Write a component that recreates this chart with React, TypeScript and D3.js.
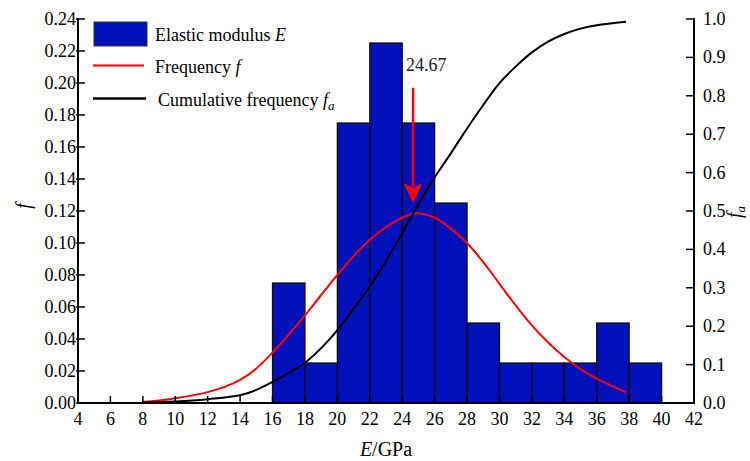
import React from "react";
import * as d3 from "d3";

// Histogram of elastic modulus (bin width 2 GPa)
const binStarts = [16, 18, 20, 22, 24, 26, 28, 30, 32, 34, 36, 38];
const binFreq = [0.075, 0.025, 0.175, 0.225, 0.175, 0.125, 0.05, 0.025, 0.025, 0.025, 0.05, 0.025];
const binWidth = 2;

// Frequency curve f
const freqE = [8, 9, 10, 11, 12, 13, 14, 15, 16, 17, 18, 19, 20, 21, 22, 23, 24, 24.7, 25.4, 26, 27, 28, 29, 30, 31, 32, 33, 34, 35, 36, 37, 37.8];
const freqF = [0.0007, 0.0016, 0.003, 0.0046, 0.0068, 0.0099, 0.0144, 0.0215, 0.0315, 0.0428, 0.0548, 0.0675, 0.0800, 0.0918, 0.1020, 0.1100, 0.1158, 0.1185, 0.1178, 0.1158, 0.109, 0.100, 0.088, 0.0745, 0.061, 0.0485, 0.0378, 0.0288, 0.0212, 0.0152, 0.0104, 0.0067];

// Cumulative frequency curve fa
const cumE = [8, 10, 12, 14, 15, 16, 17, 18, 19, 20, 21, 22, 23, 24, 24.8, 25.9, 27, 28, 29, 30, 31, 32, 33, 34, 35, 36, 37.8];
const cumF = [0.001, 0.004, 0.01, 0.02, 0.034, 0.055, 0.078, 0.105, 0.143, 0.19, 0.245, 0.303, 0.37, 0.442, 0.503, 0.581, 0.65, 0.715, 0.776, 0.833, 0.876, 0.913, 0.941, 0.961, 0.975, 0.984, 0.993];

const xTicks = d3.range(4, 43, 2);
const yLeftTicks = d3.range(0, 0.2401, 0.02);
const yRightTicks = d3.range(0, 1.001, 0.1);

const meanE = 24.67;
const arrowTopF = 0.197;
const arrowTipF = 0.125;

const W = 750;
const H = 461;
const FONT = '"Liberation Serif", "DejaVu Serif", serif';

export default function App() {
  const x = d3.scaleLinear().domain([4, 42]).range([78, 694]);
  const yL = d3.scaleLinear().domain([0, 0.24]).range([403, 19]);
  const yR = d3.scaleLinear().domain([0, 1]).range([403, 19]);

  const freqLine = d3
    .line<number>()
    .x((_, i) => x(freqE[i]))
    .y((d) => yL(d))
    .curve(d3.curveCatmullRom.alpha(0.5))(freqF);
  const cumLine = d3
    .line<number>()
    .x((_, i) => x(cumE[i]))
    .y((d) => yR(d))
    .curve(d3.curveCatmullRom.alpha(0.5))(cumF);

  const [x0, x1] = x.range();
  const yb = yL(0);
  const ytop = yL(0.24);
  const ax = x(meanE);
  const tipY = yL(arrowTipF);
  const headH = 20;
  const headW = 9.5;

  return (
    <svg
      width={W}
      height={H}
      style={{ position: "absolute", left: 0, top: 0, background: "#fff", fontFamily: FONT }}
    >
      {/* bars */}
      {binStarts.map((s, i) => (
        <rect
          key={s}
          x={x(s)}
          y={yL(binFreq[i])}
          width={x(s + binWidth) - x(s)}
          height={yb - yL(binFreq[i])}
          fill="#0010BB"
          stroke="#111"
          strokeWidth={1.3}
        />
      ))}

      {/* curves */}
      <path d={freqLine ?? ""} fill="none" stroke="#ff0000" strokeWidth={2} />
      <path d={cumLine ?? ""} fill="none" stroke="#000" strokeWidth={2} />

      {/* mean arrow */}
      <line x1={ax} x2={ax} y1={yL(arrowTopF)} y2={tipY - headH + 4} stroke="#ff0000" strokeWidth={2.5} />
      <path
        d={`M${ax - headW},${tipY - headH} L${ax},${tipY - headH + 5} L${ax + headW},${tipY - headH} L${ax},${tipY} Z`}
        fill="#ff0000"
      />
      <text x={ax - 7} y={71} fontSize={18} fill="#222">
        {meanE.toFixed(2)}
      </text>

      {/* axes */}
      <line x1={x0} x2={x0} y1={ytop - 1} y2={yb} stroke="#000" strokeWidth={2} />
      <line x1={x1} x2={x1} y1={ytop - 1} y2={yb} stroke="#000" strokeWidth={2} />
      <line x1={x0 - 1} x2={x1 + 1} y1={yb} y2={yb} stroke="#000" strokeWidth={2} />

      {xTicks.map((t) => (
        <g key={t}>
          <line x1={x(t)} x2={x(t)} y1={yb} y2={yb - 7} stroke="#000" strokeWidth={1.5} />
          <text x={x(t)} y={425} fontSize={18} textAnchor="middle">
            {t}
          </text>
        </g>
      ))}
      {yLeftTicks.map((t) => (
        <g key={t.toFixed(2)}>
          <line x1={x0 - 2} x2={x0 + 7} y1={yL(t)} y2={yL(t)} stroke="#000" strokeWidth={1.5} />
          <text x={x0 - 2} y={yL(t) + 6} fontSize={18} textAnchor="end">
            {t.toFixed(2)}
          </text>
        </g>
      ))}
      {yRightTicks.map((t) => (
        <g key={t.toFixed(1)}>
          <line x1={x1 - 8} x2={x1} y1={yR(t)} y2={yR(t)} stroke="#000" strokeWidth={1.5} />
          <text x={x1 + 9} y={yR(t) + 6} fontSize={18} textAnchor="start">
            {t.toFixed(1)}
          </text>
        </g>
      ))}

      {/* axis titles */}
      <text x={(x0 + x1) / 2} y={456} fontSize={20} textAnchor="middle">
        <tspan fontStyle="italic">E</tspan>/GPa
      </text>
      <text transform="translate(30,206) rotate(-90)" fontSize={20} textAnchor="middle" fontStyle="italic">
        f
      </text>
      <text transform="translate(741,212) rotate(-90)" fontSize={20} textAnchor="middle" fontStyle="italic">
        f<tspan fontSize={13} dy={4}>a</tspan>
      </text>

      {/* legend */}
      <rect x={94} y={22} width={53} height={24} fill="#0010BB" stroke="#333" strokeWidth={1} />
      <text x={155} y={41} fontSize={18}>
        Elastic modulus <tspan fontStyle="italic">E</tspan>
      </text>
      <line x1={93} x2={144} y1={65.5} y2={65.5} stroke="#ff0000" strokeWidth={2} />
      <text x={155} y={73} fontSize={18}>
        Frequency <tspan fontStyle="italic">f</tspan>
      </text>
      <line x1={93} x2={146} y1={98.5} y2={98.5} stroke="#000" strokeWidth={2.5} />
      <text x={158} y={106} fontSize={18}>
        Cumulative frequency <tspan fontStyle="italic">f</tspan>
        <tspan fontStyle="italic" fontSize={13} dy={4}>a</tspan>
      </text>
    </svg>
  );
}
